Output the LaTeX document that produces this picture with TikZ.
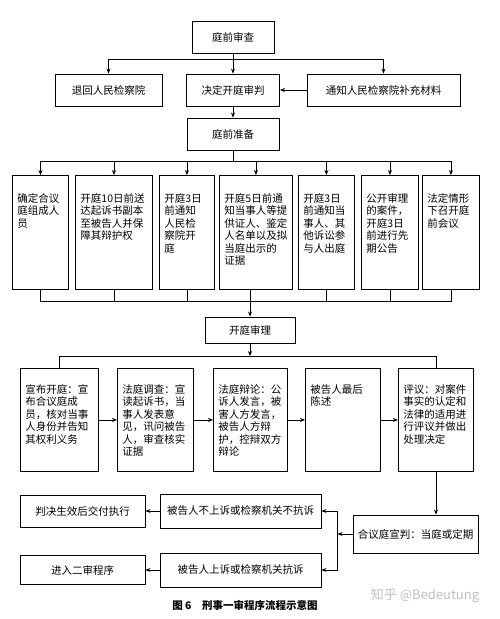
\documentclass[tikz,border=0pt]{standalone}
\usepackage{fontspec}
\setmainfont{Noto Sans CJK SC}
\usetikzlibrary{arrows,arrows.meta,positioning}

\tikzset{
	single/.style={draw, line width=0.9pt, minimum width=#1, minimum height=32pt, inner sep=0pt},
	stage/.style n args={3}{draw, line width=0.9pt, anchor=north west, align=left, inner xsep=5pt, inner ysep=0pt, text width=#1,
		execute at begin node={\vbox to #2\bgroup\vskip #3\relax}, execute at end node={\vfil\egroup}},
	link/.style={line width=0.7pt}
}

\begin{document}
\begin{tikzpicture}[x=1pt,y=-1pt,font=\fontsize{10.5}{12.5}\selectfont,>={Stealth[length=5pt,width=4pt]}]
	\useasboundingbox (0,0) rectangle (500,619);
	% review and decision
	\node (review) at (233,37) [single=82pt] {庭前审查};
	\node (return) at (108.5,90) [single=107pt] {退回人民检察院};
	\node (decide) at (233,90) [single=93pt] {决定开庭审判};
	\node (notify) at (383.5,90) [single=153pt] {通知人民检察院补充材料};
	\node (prep) at (233,134) [single=92pt] {庭前准备};
	\coordinate (fork) at (233,59);
	\draw[link,->] (review) -- (decide);
	\draw[link,->] (fork) -| (return);
	\draw[link,->] (fork) -| (notify);
	\draw[link,->] (notify) -- (decide);
	\draw[link,->] (decide) -- (prep);
	% preparation
	\node (s1) at (12,175) [stage={46pt}{114pt}{18pt}] {确定合议\\庭组成人\\员};
	\node (s2) at (75,175) [stage={67pt}{114pt}{18pt}] {开庭10日前送\\达起诉书副本\\至被告人并保\\障其辩护权};
	\node (s3) at (159,175) [stage={45pt}{114pt}{18pt}] {开庭3日\\前通知\\人民检\\察院开\\庭};
	\node (s4) at (219,175) [stage={63pt}{114pt}{18pt}] {开庭5日前通\\知当事人等提\\供证人、鉴定\\人名单以及拟\\当庭出示的\\证据};
	\node (s5) at (298,175) [stage={46pt}{114pt}{18pt}] {开庭3日\\前通知当\\事人、其\\他诉讼参\\与人出庭};
	\node (s6) at (361,175) [stage={47pt}{114pt}{18pt}] {公开审理\\的案件，\\开庭3日\\前进行先\\期公告};
	\node (s7) at (422,175) [stage={47pt}{114pt}{18pt}] {法定情形\\下召开庭\\前会议};
	\coordinate (busA) at (0,161);
	\coordinate (busB) at (0,301);
	\draw[link] (prep) -- (prep |- busA);
	\draw[link] (s1.north |- busA) -- (s7.north |- busA);
	\foreach \n in {1,...,7}
		\draw[link,->] (s\n.north |- busA) -- (s\n.north);
	\draw[link] (s1) |- (busB -| s7) -- (s7);
	\foreach \n in {2,3,5,6}
		\draw[link] (s\n.south) -- (s\n.south |- busB);
	% trial
	\node (trial) at (250,330) [single=90pt, minimum height=26pt] {开庭审理};
	\draw[link,->] (trial.north |- s4.south) -- (trial);
	\node (t1) at (20,368) [stage={68pt}{103pt}{16pt}] {宣布开庭：宣\\布合议庭成\\员，核对当事\\人身份并告知\\其权利义务};
	\node (t2) at (117,368) [stage={66pt}{103pt}{16pt}] {法庭调查：宣\\读起诉书，当\\事人发表意\\见，讯问被告\\人，审查核实\\证据};
	\node (t3) at (213,368) [stage={64pt}{103pt}{16pt}] {法庭辩论：公\\诉人发言，被\\害人方发言，\\被告人方辩\\护，控辩双方\\辩论};
	\node (t4) at (305,368) [stage={65pt}{103pt}{16pt}] {被告人最后\\陈述};
	\node (t5) at (398,368) [stage={65pt}{103pt}{16pt}] {评议：对案件\\事实的认定和\\法律的适用进\\行评议并做出\\处理决定};
	\coordinate (busC) at (0,356);
	\draw[link,->] (trial) -- (trial |- busC);
	\draw[link] (t1) |- (busC -| t5) -- (t5);
	\foreach \a/\b in {t1/t2,t2/t3,t3/t4,t4/t5}
		\draw[link,->] (\a) -- (\b);
	% judgment
	\node (sent) at (415.5,534) [single=125pt, minimum height=38pt] {合议庭宣判：当庭或定期};
	\node (noappeal) at (240.5,511) [single=161pt, minimum height=34pt] {被告人不上诉或检察机关不抗诉};
	\node (appeal) at (240.5,570) [single=161pt, minimum height=34pt] {被告人上诉或检察机关抗诉};
	\node (exec) at (82.5,511) [single=125pt] {判决生效后交付执行};
	\node (second) at (82.5,570) [single=125pt, minimum height=29pt] {进入二审程序};
	\coordinate (split) at ([xshift=-15pt]sent.west);
	\draw[link,->] (t5) -- (t5 |- sent.north);
	\draw[link,->] (sent) -- (split);
	\draw[link,->] (split) |- (noappeal);
	\draw[link,->] (split) |- (appeal);
	\draw[link,->] (noappeal) -- (exec);
	\draw[link,->] (appeal) -- (second);
	% caption
	\node (cap) at (245,605) {\bfseries 图 6\quad 刑事一审程序流程示意图};
	\node (mark) at (425,596) [text=black!25, font=\fontsize{13}{15}\selectfont] {知乎 @Bedeutung};
\end{tikzpicture}
\end{document}
